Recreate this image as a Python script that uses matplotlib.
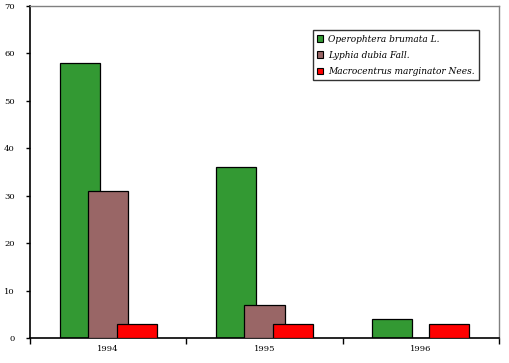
import matplotlib
matplotlib.use("Agg")
import matplotlib.pyplot as plt
import numpy as np

years = ["1994", "1995", "1996"]
species = ["Operophtera brumata L.", "Lyphia dubia Fall.", "Macrocentrus marginator Nees."]
operophtera = [58, 36, 4]
lyphia = [31, 7, 0]
macrocentrus = [3, 3, 3]
colors = ["#339933", "#996666", "#ff0000"]

fig = plt.figure(figsize=(5.09, 3.63), dpi=100)
ax = fig.add_axes([30/509, 25/363, 469/509, 332/363])

x = np.arange(len(years))
width = 0.256
offset = 0.1825
series = [operophtera, lyphia, macrocentrus]
for i, (vals, c, lab) in enumerate(zip(series, colors, species)):
    ax.bar(x + (i - 1) * offset, vals, width=width, color=c, edgecolor="black",
           linewidth=0.9, label=lab, zorder=2 + i)

ax.set_xlim(-0.5, 2.5)
ax.set_ylim(0, 70)
ax.set_yticks(range(0, 71, 10))
ax.set_yticklabels([str(v) for v in range(0, 71, 10)], family="DejaVu Serif", fontsize=6)
ax.set_xticks(x)
ax.set_xticklabels(years, family="DejaVu Serif", fontsize=6)
ax.tick_params(axis="x", length=0, pad=5)
ax.set_xticks([-0.5, 0.5, 1.5, 2.5], minor=True)
ax.tick_params(axis="x", which="minor", length=4, direction="out", width=1)
ax.tick_params(axis="y", length=3, direction="out", width=1, pad=8)
for s in ["left", "bottom"]:
    ax.spines[s].set_linewidth(1.2)
    ax.spines[s].set_color("black")
for s in ["top", "right"]:
    ax.spines[s].set_linewidth(1)
    ax.spines[s].set_color("#808080")

leg = ax.legend(loc="upper right", bbox_to_anchor=((479 - 30) / 469, (338 - 30) / 332),
                bbox_transform=ax.transAxes, frameon=True, fancybox=False,
                prop={"family": "DejaVu Serif", "style": "italic", "size": 6.5},
                handlelength=0.7, handleheight=0.7, handletextpad=0.5,
                labelspacing=0.8, borderpad=0.5, borderaxespad=0)
leg.get_frame().set_edgecolor("black")
leg.get_frame().set_linewidth(1)
for h in leg.legend_handles:
    h.set_linewidth(0.8)
    h.set_edgecolor("black")

fig.savefig("out.png", dpi=100)
